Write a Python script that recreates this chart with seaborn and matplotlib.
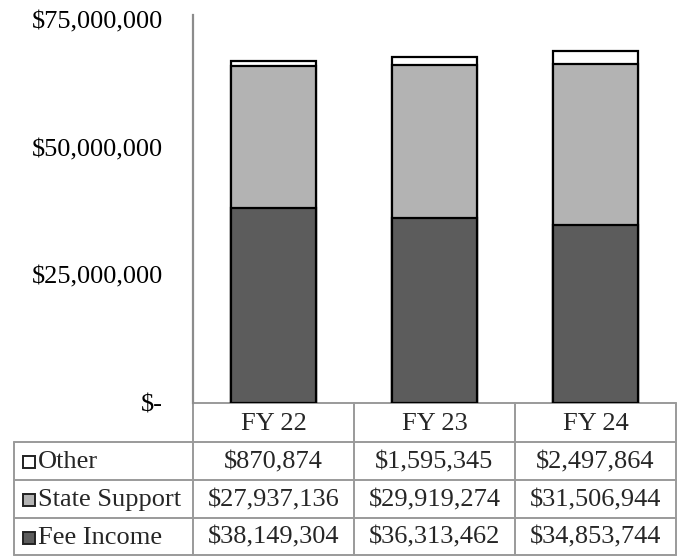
import matplotlib
matplotlib.use("Agg")
import matplotlib.pyplot as plt
from matplotlib.ticker import FuncFormatter
from matplotlib.patches import Rectangle
import pandas as pd
import seaborn as sns

# Revenue by fiscal year
years = ["FY 22", "FY 23", "FY 24"]
series_names = ["Other", "State Support", "Fee Income"]
other = [870874, 1595345, 2497864]
state_support = [27937136, 29919274, 31506944]
fee_income = [38149304, 36313462, 34853744]
y_ticks = [0, 25000000, 50000000, 75000000]

series_colors = {"Other": "#ffffff", "State Support": "#b3b3b3", "Fee Income": "#5c5c5c"}
grid_gray = "#9a9a9a"

sns.set_theme(style="white")
plt.rcParams["font.family"] = ["Liberation Serif", "DejaVu Serif"]
FS = 19

W, H = 682, 557
fig = plt.figure(figsize=(W / 100, H / 100), dpi=100)

df = pd.DataFrame({
    "year": years,
    "fee": fee_income,
    "fee_state": [f + s for f, s in zip(fee_income, state_support)],
    "total": [f + s + o for f, s, o in zip(fee_income, state_support, other)],
})

# plot area in pixel terms
x0, x1, y_top, y_zero = 193, 676, 15, 403
ax = fig.add_axes([x0 / W, 1 - y_zero / H, (x1 - x0) / W, (y_zero - y_top) / H])

bar_kw = dict(width=0.53, edgecolor="black", linewidth=1.6, saturation=1, ax=ax)
sns.barplot(data=df, x="year", y="total", color=series_colors["Other"], **bar_kw)
sns.barplot(data=df, x="year", y="fee_state", color=series_colors["State Support"], **bar_kw)
sns.barplot(data=df, x="year", y="fee", color=series_colors["Fee Income"], **bar_kw)

ax.set_xlim(-0.5, 2.5)
ax.set_ylim(0, 76000000)
ax.set_yticks(y_ticks)
ax.yaxis.set_major_formatter(FuncFormatter(lambda v, p: "$-" if v == 0 else f"${v:,.0f}"))
ax.tick_params(axis="y", length=0, pad=21.5, labelsize=FS, colors="black")
ax.set_xticks([])
ax.set_xlabel("")
ax.set_ylabel("")
for s in ["top", "right", "bottom"]:
    ax.spines[s].set_visible(False)
ax.spines["left"].set_color("#8c8c8c")
ax.spines["left"].set_linewidth(1.6)
ax.set_facecolor("none")

# data table beneath the bars, laid out in pixel coordinates
tax = fig.add_axes([0, 0, 1, 1], zorder=-1)
tax.set_xlim(0, W)
tax.set_ylim(H, 0)
tax.axis("off")

col_edges = [193, 354, 515, 676]
row_edges = [403, 442, 480, 518, 555]
table_left = 14
lw = 1.4

tax.plot([col_edges[0], col_edges[-1]], [row_edges[0]] * 2, color=grid_gray, lw=lw)
for yv in row_edges[1:]:
    tax.plot([table_left, col_edges[-1]], [yv, yv], color=grid_gray, lw=lw)
for xv in col_edges:
    tax.plot([xv, xv], [row_edges[0], row_edges[-1]], color=grid_gray, lw=lw)
tax.plot([table_left, table_left], [row_edges[1], row_edges[-1]], color=grid_gray, lw=lw)

col_centers = [(a + b) / 2 for a, b in zip(col_edges[:-1], col_edges[1:])]
for cx, yr in zip(col_centers, years):
    tax.text(cx, (row_edges[0] + row_edges[1]) / 2 + 1, yr, ha="center", va="center", fontsize=FS)

rows = [("Other", other), ("State Support", state_support), ("Fee Income", fee_income)]
for i, (name, vals) in enumerate(rows):
    cy = (row_edges[i + 1] + row_edges[i + 2]) / 2 + 1
    tax.add_patch(Rectangle((23, cy - 6), 12, 12, facecolor=series_colors[name],
                            edgecolor="#222222", lw=1.4))
    tax.text(38, cy, name, ha="left", va="center", fontsize=FS)
    for cx, v in zip(col_centers, vals):
        tax.text(cx, cy, f"${v:,}", ha="center", va="center", fontsize=FS)

fig.savefig("out.png", dpi=100, facecolor="white")
